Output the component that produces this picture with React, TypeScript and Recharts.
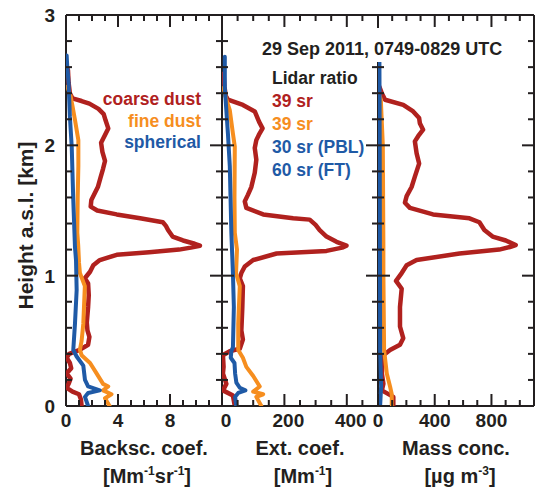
import { ScatterChart, Scatter, XAxis, YAxis } from "recharts";

const W = 536;
const H = 491;
const AX = 2;
const PLOT_TOP = 15;
const PLOT_BOTTOM = 406;
const FONT = '"Liberation Sans", Arial, Helvetica, sans-serif';
const INK = "#231f20";
const RED = "#b0211e";
const ORANGE = "#f68e1f";
const BLUE = "#1f5aa6";

// axis ticks
const heightTicks = [0, 0.2, 0.4, 0.6, 0.8, 1, 1.2, 1.4, 1.6, 1.8, 2, 2.2, 2.4, 2.6, 2.8, 3];
const heightLabels = [0, 1, 2, 3];
const bscTicks = [0, 1, 2, 3, 4, 5, 6, 7, 8, 9, 10, 11, 12];
const bscLabels = [0, 4, 8];
const extTicks = [0, 50, 100, 150, 200, 250, 300, 350, 400, 450, 500];
const extLabels = [0, 200, 400];
const massTicks = [0, 100, 200, 300, 400, 500, 600, 700, 800, 900, 1000, 1100];
const massLabels = [0, 400, 800];

// profiles: [height km, value]
const coarseBackscatter = [
  [2.58, 0.15], [2.48, 0.2], [2.4, 0.3], [2.36, 0.5], [2.34, 1.2], [2.32, 1.8], [2.28, 2.5],
  [2.24, 2.9], [2.19, 3.05], [2.13, 3.25], [2.08, 3.0], [2.02, 2.7], [1.95, 2.8], [1.88, 3.0],
  [1.82, 2.85], [1.75, 2.65], [1.68, 2.45], [1.63, 2.2], [1.58, 1.95], [1.53, 1.9], [1.5, 2.4],
  [1.47, 3.9], [1.44, 5.7], [1.41, 7.45], [1.38, 7.7], [1.35, 7.85], [1.3, 8.2], [1.27, 9.0],
  [1.245, 9.9], [1.23, 10.3], [1.215, 9.6], [1.2, 8.7], [1.18, 6.4], [1.16, 3.9], [1.12, 2.6],
  [1.08, 2.1], [1.03, 1.85], [0.98, 1.45], [0.94, 1.7], [0.85, 1.75], [0.76, 1.7], [0.64, 1.6],
  [0.58, 1.65], [0.53, 1.8], [0.47, 1.7], [0.43, 1.05], [0.4, 0.25], [0.37, 0.05], [0.33, 0.3],
  [0.29, 0.4], [0.25, 0.05], [0.21, 0.35], [0.17, 0.2], [0.14, 0.05], [0.11, 0.5], [0.09, 1.0],
  [0.05, 1.15], [0, 1.2],
];
const fineBackscatter = [
  [2.45, 0.1], [2.38, 0.35], [2.3, 0.5], [2.19, 0.7], [2.1, 0.85], [2.04, 0.95], [1.84, 0.95],
  [1.6, 0.9], [1.33, 0.87], [1.23, 0.94], [1.1, 1.0], [1.02, 1.07], [0.92, 1.45], [0.8, 1.4],
  [0.63, 1.33], [0.5, 1.2], [0.43, 1.07], [0.39, 1.2], [0.33, 1.85], [0.25, 2.35], [0.17, 2.85],
  [0.15, 3.25], [0.12, 2.85], [0.09, 3.5], [0.06, 3.0], [0, 3.35],
];
const sphericalBackscatter = [
  [2.69, 0.05], [2.6, 0.1], [2.48, 0.2], [2.35, 0.25], [2.22, 0.3], [1.99, 0.44], [1.58, 0.56],
  [1.22, 0.69], [1.12, 0.77], [0.89, 0.82], [0.63, 0.69], [0.43, 0.56], [0.38, 0.82], [0.31, 1.33],
  [0.2, 1.46], [0.15, 1.7], [0.12, 2.6], [0.1, 1.7], [0.07, 1.46], [0, 1.7],
];

const coarseExtinction = [
  [2.55, 5], [2.45, 8], [2.38, 12], [2.35, 19], [2.31, 67], [2.26, 105], [2.18, 119], [2.13, 130],
  [2.08, 118], [2.04, 110], [1.98, 105], [1.89, 110], [1.79, 105], [1.68, 94], [1.62, 83],
  [1.57, 73], [1.52, 78], [1.47, 132], [1.44, 228], [1.43, 281], [1.39, 300], [1.35, 313],
  [1.3, 335], [1.26, 367], [1.23, 399], [1.215, 385], [1.19, 335], [1.17, 175], [1.12, 100],
  [1.07, 73], [1.02, 62], [0.98, 57], [0.92, 67], [0.75, 65], [0.58, 62], [0.51, 67], [0.44, 57],
  [0.42, 25], [0.39, 3], [0.3, 5], [0.25, 3], [0.17, 14], [0.12, 3], [0.08, 35], [0, 41],
];
const fineExtinction = [
  [2.44, 5], [2.35, 14], [2.27, 25], [2.09, 35], [1.99, 41], [1.6, 40], [1.33, 41], [1.2, 48],
  [1.02, 45], [0.92, 57], [0.63, 52], [0.43, 52], [0.37, 67], [0.3, 78], [0.23, 100], [0.15, 121],
  [0.11, 100], [0.09, 132], [0.07, 110], [0, 126],
];
const sphericalExtinction = [
  [2.68, 9], [2.44, 9], [2.09, 19], [1.84, 25], [1.33, 30], [1.02, 35], [0.76, 38], [0.45, 35],
  [0.42, 30], [0.37, 28], [0.33, 40], [0.25, 42], [0.18, 46], [0.14, 57], [0.12, 75], [0.1, 52],
  [0.07, 42], [0, 46],
];

const coarseMass = [
  [2.45, 10], [2.4, 27], [2.35, 50], [2.31, 178], [2.26, 248], [2.21, 290], [2.17, 295], [2.12, 318],
  [2.07, 283], [2.03, 260], [1.94, 272], [1.86, 290], [1.76, 260], [1.68, 237], [1.61, 202],
  [1.56, 190], [1.52, 225], [1.47, 388], [1.44, 645], [1.41, 715], [1.35, 750], [1.3, 808],
  [1.27, 901], [1.235, 971], [1.22, 930], [1.2, 855], [1.17, 575], [1.12, 272], [1.08, 202],
  [1.02, 167], [0.96, 127], [0.9, 167], [0.76, 155], [0.61, 155], [0.52, 178], [0.47, 155],
  [0.43, 85], [0.39, 38], [0.3, 30], [0.25, 27], [0.17, 38], [0.12, 27], [0.07, 108], [0, 108],
];
const fineMass = [
  [2.4, 5], [2.35, 20], [2.0, 34], [1.23, 38], [1.02, 38], [0.43, 43], [0.25, 62], [0.15, 85],
  [0.09, 97], [0, 97],
];
const sphericalMass = [
  [2.64, 10], [2.0, 12], [1.0, 14], [0.43, 15], [0.15, 22], [0, 15],
];

const legendNames = ["coarse dust", "fine dust", "spherical"];
const lidarRatios = ["39 sr", "39 sr", "30 sr (PBL)", "60 sr (FT)"];
const lidarColors = [RED, ORANGE, BLUE, BLUE];

// panel frames in page pixels
const frames = [
  { left: 66, right: 222, domain: [0, 12], ticks: bscTicks, labels: bscLabels },
  { left: 222, right: 378, domain: [0, 500], ticks: extTicks, labels: extLabels },
  { left: 378, right: 534, domain: [0, 1100], ticks: massTicks, labels: massLabels },
];

// every axis needs a series bound to it
const seriesAxes = [
  { x: "b", y: "l" },
  { x: "t", y: "r" },
  { x: "t", y: "l" },
];

const toPoints = (rows: number[][]) => rows.map(([h, v]) => ({ h, v }));

const textStyle = { fontFamily: FONT, fontWeight: 700 };

const xTick = (majors: number[], showLabels: boolean, dx: number) => (props: any) => {
  const { x, y, payload } = props;
  const major = majors.includes(payload.value);
  if (!showLabels || !major) return <g />;
  return (
    <text x={x + dx} y={y + 21} textAnchor="middle" fontSize={19} fill={INK} style={textStyle}>
      {payload.value}
    </text>
  );
};

const yTick = (showLabels: boolean) => (props: any) => {
  const { x, y, payload } = props;
  const major = heightLabels.includes(payload.value);
  if (!showLabels || !major) return <g />;
  return (
    <text x={x - 11} y={y} dy="0.36em" textAnchor="end" fontSize={19} fill={INK} style={textStyle}>
      {payload.value}
    </text>
  );
};

type Series = { name: string; color: string; width: number; rows: number[][] };

type PanelProps = {
  left: number;
  right: number;
  domain: [number, number];
  ticks: number[];
  labels: number[];
  labelDx: number;
  series: Series[];
  title: string;
  unit: (cx: number, y: number) => any;
  heightAxis?: boolean;
};

const noShape = () => <g />;

function Panel({ left, right, domain, ticks, labels, labelDx, series, title, unit, heightAxis }: PanelProps) {
  const margin = {
    top: PLOT_TOP - AX,
    bottom: H - PLOT_BOTTOM - AX,
    left: left - AX,
    right: W - right - AX,
  };
  const axisLine = { stroke: INK, strokeWidth: 2 };
  return (
    <div style={{ position: "absolute", left: 0, top: 0 }}>
      <ScatterChart width={W} height={H} margin={margin}>
        <XAxis
          xAxisId="b"
          type="number"
          dataKey="v"
          orientation="bottom"
          domain={domain}
          ticks={ticks}
          interval={0}
          allowDataOverflow
          height={AX}
          tickSize={0}
          tickMargin={0}
          tickLine={false}
          axisLine={axisLine}
          tick={xTick(labels, true, labelDx)}
          label={(p: any) => {
            const vb = p.viewBox;
            const cx = vb.x + vb.width / 2;
            return (
              <g>
                <text x={cx} y={vb.y + 49} textAnchor="middle" fontSize={20} fill={INK} style={textStyle}>
                  {title}
                </text>
                {unit(cx, vb.y + 77)}
              </g>
            );
          }}
        />
        <XAxis
          xAxisId="t"
          type="number"
          dataKey="v"
          orientation="top"
          domain={domain}
          ticks={ticks}
          interval={0}
          allowDataOverflow
          height={AX}
          tickSize={0}
          tickMargin={0}
          tickLine={false}
          axisLine={axisLine}
          tick={xTick(labels, false, 0)}
        />
        <YAxis
          yAxisId="l"
          type="number"
          dataKey="h"
          orientation="left"
          domain={[0, 3]}
          ticks={heightTicks}
          interval={0}
          allowDataOverflow
          width={AX}
          tickSize={0}
          tickMargin={0}
          tickLine={false}
          axisLine={axisLine}
          tick={yTick(!!heightAxis)}
          label={
            heightAxis
              ? (p: any) => {
                  const vb = p.viewBox;
                  const cx = vb.x - 39;
                  const cy = vb.y + vb.height / 2 + 15;
                  return (
                    <text
                      x={cx}
                      y={cy}
                      transform={`rotate(-90 ${cx} ${cy})`}
                      textAnchor="middle"
                      dominantBaseline="central"
                      fontSize={21}
                      fill={INK}
                      style={textStyle}
                    >
                      Height a.s.l. [km]
                    </text>
                  );
                }
              : undefined
          }
        />
        <YAxis
          yAxisId="r"
          type="number"
          dataKey="h"
          orientation="right"
          domain={[0, 3]}
          ticks={heightTicks}
          interval={0}
          allowDataOverflow
          width={AX}
          tickSize={0}
          tickMargin={0}
          tickLine={false}
          axisLine={axisLine}
          tick={yTick(false)}
        />
        {series.map((s, i) => (
          <Scatter
            key={s.name}
            name={s.name}
            xAxisId={seriesAxes[i].x}
            yAxisId={seriesAxes[i].y}
            data={toPoints(s.rows)}
            fill={s.color}
            line={{ stroke: s.color, strokeWidth: s.width, strokeLinejoin: "round", strokeLinecap: "round" }}
            lineType="joint"
            shape={noShape}
            isAnimationActive={false}
          />
        ))}
      </ScatterChart>
    </div>
  );
}

const sup = (t: string) => (
  <tspan dy={-8} fontSize={12}>
    {t}
  </tspan>
);

const unitBsc = (cx: number, y: number) => (
  <text x={cx + 3} y={y} textAnchor="middle" fontSize={20} fill={INK} style={textStyle}>
    [Mm{sup("-1")}
    <tspan dy={8}>sr</tspan>
    {sup("-1")}
    <tspan dy={8}>]</tspan>
  </text>
);
const unitExt = (cx: number, y: number) => (
  <text x={cx + 3} y={y} textAnchor="middle" fontSize={20} fill={INK} style={textStyle}>
    [Mm{sup("-1")}
    <tspan dy={8}>]</tspan>
  </text>
);
const unitMass = (cx: number, y: number) => (
  <text x={cx + 4} y={y} textAnchor="middle" fontSize={20} fill={INK} style={textStyle}>
    [µg m{sup("-3")}
    <tspan dy={8}>]</tspan>
  </text>
);

// inward tick marks on all four sides of each frame
function TickMarks() {
  const plotH = PLOT_BOTTOM - PLOT_TOP;
  return (
    <g fill={INK}>
      {frames.map((f, fi) => (
        <g key={fi}>
          {f.ticks.map((t) => {
            const px = f.left + ((t - f.domain[0]) / (f.domain[1] - f.domain[0])) * (f.right - f.left);
            const len = f.labels.includes(t) ? 12 : 6;
            return (
              <g key={`x${t}`}>
                <rect x={px - 1} y={PLOT_BOTTOM - len} width={2} height={len} />
                <rect x={px - 1} y={PLOT_TOP} width={2} height={len} />
              </g>
            );
          })}
          {heightTicks.map((h) => {
            const py = PLOT_BOTTOM - (h / 3) * plotH;
            const len = heightLabels.includes(h) ? 12 : 6;
            return (
              <g key={`y${h}`}>
                <rect x={f.left} y={py - 1} width={len} height={2} />
                <rect x={f.right - len} y={py - 1} width={len} height={2} />
              </g>
            );
          })}
        </g>
      ))}
    </g>
  );
}

export default function App() {
  const colors = [RED, ORANGE, BLUE];
  const widths = [4.5, 4, 4];
  const mk = (rows: number[][][]): Series[] =>
    rows.map((r, i) => ({ name: legendNames[i], color: colors[i], width: widths[i], rows: r }));

  return (
    <div style={{ position: "absolute", left: 0, top: 0, width: W, height: H }}>
      <Panel
        left={66}
        right={222}
        domain={[0, 12]}
        ticks={bscTicks}
        labels={bscLabels}
        labelDx={0}
        series={mk([coarseBackscatter, fineBackscatter, sphericalBackscatter])}
        title="Backsc. coef."
        unit={unitBsc}
        heightAxis
      />
      <Panel
        left={222}
        right={378}
        domain={[0, 500]}
        ticks={extTicks}
        labels={extLabels}
        labelDx={4}
        series={mk([coarseExtinction, fineExtinction, sphericalExtinction])}
        title="Ext. coef."
        unit={unitExt}
      />
      <Panel
        left={378}
        right={534}
        domain={[0, 1100]}
        ticks={massTicks}
        labels={massLabels}
        labelDx={0}
        series={mk([coarseMass, fineMass, sphericalMass])}
        title="Mass conc."
        unit={unitMass}
      />
      <svg
        width={W}
        height={H}
        style={{ position: "absolute", left: 0, top: 0, pointerEvents: "none" }}
      >
        <TickMarks />
        {legendNames.map((n, i) => (
          <text key={n} x={201} y={105 + i * 21.5} textAnchor="end" fontSize={17.5} fill={colors[i]} style={textStyle}>
            {n}
          </text>
        ))}
        <rect x={258} y={28} width={250} height={34} fill="#fff" />
        <text x={262} y={55} fontSize={18} fill={INK} style={textStyle}>
          29 Sep 2011, 0749-0829 UTC
        </text>
        <text x={272} y={83.5} fontSize={17.5} fill={INK} style={textStyle}>
          Lidar ratio
        </text>
        {lidarRatios.map((t, i) => (
          <text key={i} x={272} y={106.5 + i * 23} fontSize={17.5} fill={lidarColors[i]} style={textStyle}>
            {t}
          </text>
        ))}
      </svg>
    </div>
  );
}
